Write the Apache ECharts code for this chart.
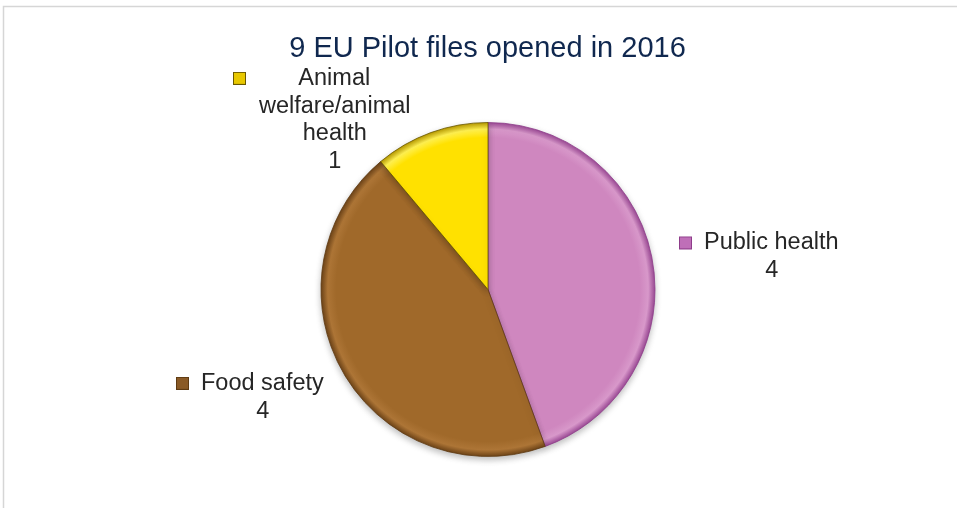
<!DOCTYPE html>
<html>
<head>
<meta charset="utf-8">
<script src="https://cdn.jsdelivr.net/npm/echarts@6/dist/echarts.min.js"></script>
<style>
  html, body { margin: 0; padding: 0; background: #ffffff; }
  #chart { width: 957px; height: 508px; }
</style>
</head>
<body>
<div id="chart"></div>
<script>
// ---- data ----
const titleText = '9 EU Pilot files opened in 2016';
const categories = ['Public health', 'Food safety', 'Animal\nwelfare/animal\nhealth'];
const values = [4, 4, 1];

// ---- styling ----
const sliceColors = ['#cf87bf', '#a0692a', '#ffe100'];
const sliceHighlights = ['#d898ca', '#ad7536', '#fff050'];
const sliceRims = ['#9c4a96', '#6e4418', '#b89a00'];
const sliceBorders = ['#8e3c8a', '#5e3a12', '#6a5800'];
const keyColors = ['#bf6fb8', '#8a5a26', '#e8c800'];
// label block anchors (top-left of each label block), by data index
const labelAnchors = [[680, 229], [177, 369.5], [234, 64.5]];

const chart = echarts.init(document.getElementById('chart'), null, { renderer: 'canvas' });

const LH = 27.8;
const rich = {
  gap: { width: 13, height: 12, lineHeight: LH, align: 'left' },
  sp: { width: 25, height: 12, lineHeight: LH, align: 'left' },
  name: {
    fontFamily: 'Liberation Sans, Arial, sans-serif',
    fontSize: 23.5, color: '#262626', lineHeight: LH, align: 'center'
  }
};
keyColors.forEach(function (c, i) {
  rich['sq' + i] = {
    width: 11, height: 11, lineHeight: LH, align: 'left',
    backgroundColor: c, borderColor: sliceBorders[i], borderWidth: 1
  };
});

const option = {
  backgroundColor: '#ffffff',
  animation: false,
  title: {
    text: titleText,
    left: 487.5,
    textAlign: 'center',
    top: 34,
    padding: 0,
    textStyle: {
      fontFamily: 'Liberation Sans, Arial, sans-serif',
      fontSize: 29, fontWeight: 'normal', color: '#10284f'
    }
  },
  graphic: [{
    type: 'rect', silent: true, z: -1,
    shape: { x: 3.5, y: 6.5, width: 1000, height: 600 },
    style: { fill: 'none', stroke: '#d6d6d6', lineWidth: 1.5 }
  }],
  series: [{
    type: 'pie',
    center: [488, 289.5],
    radius: 167,
    startAngle: 90,
    clockwise: true,
    avoidLabelOverlap: false,
    data: categories.map(function (n, i) {
      return {
        name: n, value: values[i],
        itemStyle: {
          color: {
            type: 'radial', x: 488, y: 289.5, r: 167, global: true,
            colorStops: [
              { offset: 0, color: sliceColors[i] },
              { offset: 0.91, color: sliceColors[i] },
              { offset: 0.96, color: sliceHighlights[i] },
              { offset: 1, color: sliceRims[i] }
            ]
          },
          borderColor: sliceBorders[i],
          borderWidth: 0.8
        }
      };
    }),
    itemStyle: {
      shadowBlur: 6, shadowOffsetY: 3, shadowColor: 'rgba(0,0,0,0.25)'
    },
    labelLine: { show: false },
    label: {
      show: true,
      formatter: function (p) {
        const lines = p.name.split('\n');
        const out = ['{sq' + p.dataIndex + '|}{gap|}{name|' + lines[0] + '}'];
        for (let k = 1; k < lines.length; k++) out.push('{sp|}{name|' + lines[k] + '}');
        out.push('{sp|}{name|' + p.value + '}');
        return out.join('\n');
      },
      rich: rich
    },
    labelLayout: function (params) {
      const a = labelAnchors[params.dataIndex];
      return { x: a[0], y: a[1], align: 'left', verticalAlign: 'top' };
    },
    emphasis: { disabled: true }
  }]
};

chart.setOption(option);
</script>
</body>
</html>
